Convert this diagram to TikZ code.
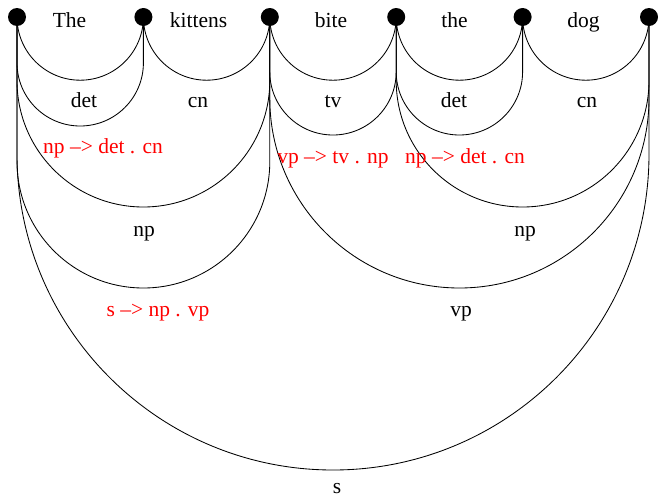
\documentclass[tikz,border=0pt]{standalone}
\usepackage{fontspec}
\setmainfont{Liberation Serif}
\begin{document}
\begin{tikzpicture}[x=1pt,y=-1pt,
  dot/.style={circle,fill=black,draw=none,inner sep=0pt,minimum size=18pt},
  edge/.style={draw=black,line width=0.85pt},
  lbl/.style={anchor=base,inner sep=0pt,font=\fontsize{21.5}{25}\selectfont},
  act/.style={lbl,text=red}]
\useasboundingbox (0,0) rectangle (658,498);
% vertices
\node[dot] (n0) at (17,17) {};
\node[dot] (n1) at (143.4,17) {};
\node[dot] (n2) at (269.8,17) {};
\node[dot] (n3) at (396.2,17) {};
\node[dot] (n4) at (522.6,17) {};
\node[dot] (n5) at (649,17) {};
% lexical edges
\draw[edge] (n0.center) arc[start angle=180,end angle=0,radius=63.2] -- (n1.center);
\draw[edge] (n1.center) arc[start angle=180,end angle=0,radius=63.2] -- (n2.center);
\draw[edge] (n2.center) arc[start angle=180,end angle=0,radius=63.2] -- (n3.center);
\draw[edge] (n3.center) arc[start angle=180,end angle=0,radius=63.2] -- (n4.center);
\draw[edge] (n4.center) arc[start angle=180,end angle=0,radius=63.2] -- (n5.center);
% active edges
\draw[edge] (n0.center) -- ++(0,45.8) arc[start angle=180,end angle=0,radius=63.2] -- (n1.center);
\draw[edge] (n2.center) -- ++(0,54.8) arc[start angle=180,end angle=0,radius=63.2] -- (n3.center);
\draw[edge] (n3.center) -- ++(0,54.8) arc[start angle=180,end angle=0,radius=63.2] -- (n4.center);
% np edges
\draw[edge] (n0.center) -- ++(0,63.6) arc[start angle=180,end angle=0,radius=126.4] -- (n2.center);
\draw[edge] (n3.center) -- ++(0,63.6) arc[start angle=180,end angle=0,radius=126.4] -- (n5.center);
% s -> np . vp
\draw[edge] (n0.center) -- ++(0,144.6) arc[start angle=180,end angle=0,radius=126.4] -- (n2.center);
% vp
\draw[edge] (n2.center) -- ++(0,81.4) arc[start angle=180,end angle=0,radius=189.6] -- (n5.center);
% s
\draw[edge] (n0.center) -- ++(0,137) arc[start angle=180,end angle=0,radius=316] -- (n5.center);
% words
\node[lbl] (w1) at (69.5,27) {The};
\node[lbl] (w2) at (198.5,27) {kittens};
\node[lbl] (w3) at (331,27) {bite};
\node[lbl] (w4) at (454.5,27) {the};
\node[lbl] (w5) at (583.5,27) {dog};
% lexical categories
\node[lbl] (c1) at (84,107) {det};
\node[lbl] (c2) at (198,107) {cn};
\node[lbl] (c3) at (333,107) {tv};
\node[lbl] (c4) at (454,107) {det};
\node[lbl] (c5) at (587,107) {cn};
% active edge labels
\node[act] (a1) at (103,153) {np –> det . cn};
\node[act] (a2) at (333,163) {vp –> tv . np};
\node[act] (a3) at (465,163) {np –> det . cn};
\node[act] (a4) at (158,316) {s –> np . vp};
% complete edge labels
\node[lbl] (p1) at (144,236) {np};
\node[lbl] (p2) at (525,236) {np};
\node[lbl] (p3) at (461,316) {vp};
\node[lbl] (p4) at (337,493) {s};
\end{tikzpicture}
\end{document}
